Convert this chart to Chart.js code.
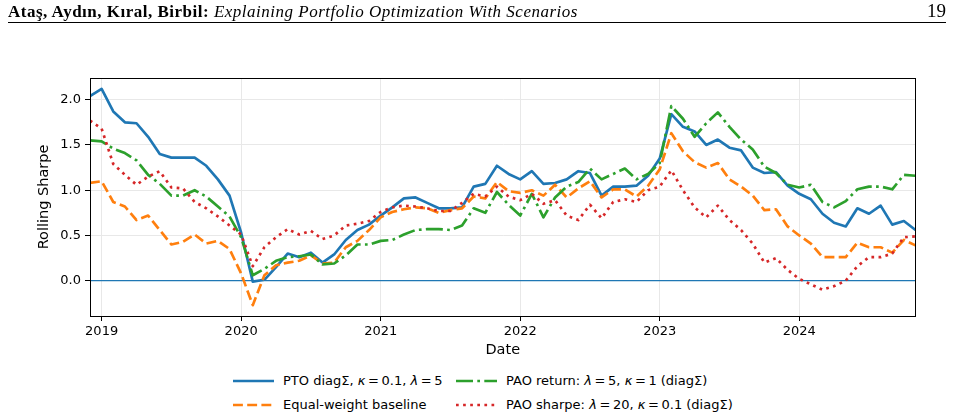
<!DOCTYPE html>
<html>
<head>
<meta charset="utf-8">
<script src="https://cdn.jsdelivr.net/npm/chart.js@4"></script>
<style>
  body { margin: 0; background: #fff; }
  #page { position: relative; width: 954px; height: 419px; overflow: hidden; font-family: "DejaVu Sans", sans-serif; }
  #head { position: absolute; left: 8px; top: 1px; width: 938px; height: 21px; border-bottom: 1px solid #000;
          font-family: "Liberation Serif", serif; font-size: 17px; letter-spacing: 0.5px; line-height: 21px; white-space: nowrap; }
  #head .pg { position: absolute; right: 0; top: -1px; font-size: 19px; letter-spacing: 0; }
  #chartBox { position: absolute; left: 0; top: 0; width: 954px; height: 360px; }
  .leg { position: absolute; font-size: 13px; line-height: 16px; white-space: nowrap; color: #000; }
  .leg svg { position: absolute; left: -50px; top: 3px; }
</style>
</head>
<body>
<div id="page">
  <div id="chartBox"><canvas id="grafica" width="954" height="360"></canvas></div>
  <div id="head"><b>Ataş, Aydın, Kıral, Birbil:</b> <i>Explaining Portfolio Optimization With Scenarios</i><span class="pg">19</span></div>
  <div id="legend"></div>
</div>
<script>
// Meses desde dic-2018 (0) hasta nov-2024 (71)
const yearTicks = [1, 13, 25, 37, 49, 61];
const yearLabels = ["2019", "2020", "2021", "2022", "2023", "2024"];
const yTicks = [0, 0.5, 1.0, 1.5, 2.0];

const pto = [2.04, 2.12, 1.87, 1.75, 1.74, 1.59, 1.40, 1.36, 1.36, 1.36, 1.27, 1.12,
             0.94, 0.53, -0.01, 0.01, 0.15, 0.30, 0.26, 0.31, 0.20, 0.29, 0.45, 0.56,
             0.62, 0.72, 0.81, 0.91, 0.92, 0.86, 0.80, 0.80, 0.81, 1.04, 1.07, 1.27,
             1.18, 1.12, 1.21, 1.07, 1.08, 1.12, 1.21, 1.19, 0.94, 1.04, 1.04, 1.05,
             1.16, 1.35, 1.84, 1.70, 1.65, 1.50, 1.56, 1.47, 1.44, 1.25, 1.19, 1.20,
             1.05, 0.96, 0.90, 0.74, 0.64, 0.60, 0.80, 0.74, 0.83, 0.62, 0.66, 0.56];
const equalWeight = [1.08, 1.10, 0.87, 0.82, 0.67, 0.72, 0.56, 0.40, 0.43, 0.51, 0.41, 0.44,
             0.35, 0.08, -0.27, 0.06, 0.17, 0.20, 0.22, 0.28, 0.19, 0.20, 0.37, 0.44,
             0.56, 0.70, 0.76, 0.79, 0.81, 0.80, 0.75, 0.78, 0.80, 0.93, 0.91, 1.09,
             0.99, 0.97, 1.00, 0.94, 1.06, 0.92, 1.02, 1.10, 0.92, 1.01, 1.01, 0.93,
             1.05, 1.23, 1.63, 1.43, 1.31, 1.25, 1.30, 1.12, 1.04, 0.94, 0.78, 0.79,
             0.60, 0.50, 0.41, 0.26, 0.26, 0.26, 0.42, 0.37, 0.37, 0.31, 0.45, 0.39];
const paoReturn = [1.55, 1.54, 1.46, 1.41, 1.33, 1.17, 1.07, 0.94, 0.94, 1.00, 0.93, 0.82,
             0.71, 0.48, 0.06, 0.13, 0.22, 0.26, 0.27, 0.29, 0.18, 0.19, 0.28, 0.40,
             0.40, 0.44, 0.45, 0.51, 0.56, 0.57, 0.57, 0.56, 0.61, 0.80, 0.75, 0.98,
             0.84, 0.72, 0.96, 0.70, 0.92, 1.04, 1.09, 1.24, 1.12, 1.18, 1.24, 1.12,
             1.18, 1.30, 1.93, 1.79, 1.59, 1.74, 1.86, 1.70, 1.56, 1.45, 1.26, 1.19,
             1.06, 1.03, 1.06, 0.87, 0.81, 0.88, 1.01, 1.04, 1.04, 1.01, 1.17, 1.16];
const paoSharpe = [1.77, 1.68, 1.29, 1.17, 1.06, 1.15, 1.21, 1.03, 1.02, 0.87, 0.80, 0.71,
             0.61, 0.51, 0.16, 0.37, 0.48, 0.57, 0.51, 0.55, 0.46, 0.50, 0.61, 0.63,
             0.66, 0.76, 0.81, 0.83, 0.82, 0.80, 0.77, 0.77, 0.86, 0.96, 0.93, 1.04,
             0.93, 0.89, 0.96, 0.85, 0.89, 0.72, 0.67, 0.84, 0.69, 0.87, 0.90, 0.87,
             1.00, 1.04, 1.22, 1.00, 0.81, 0.70, 0.83, 0.67, 0.56, 0.41, 0.20, 0.25,
             0.12, 0.02, -0.04, -0.10, -0.06, 0.00, 0.16, 0.26, 0.26, 0.30, 0.48, 0.49];

const toXY = arr => arr.map((v, i) => ({ x: i, y: v }));
const lw = 2.67;
const eq = "\u2009=\u2009";

const series = [
    { label: `PTO diagΣ, <i>κ</i>${eq}0.1, <i>λ</i>${eq}5`, data: pto, color: "#1f77b4", dash: [], order: 4 },
    { label: "Equal-weight baseline", data: equalWeight, color: "#ff7f0e", dash: [9.9, 4.3], order: 3 },
    { label: `PAO return: <i>λ</i>${eq}5, <i>κ</i>${eq}1 (diagΣ)`, data: paoReturn, color: "#2ca02c", dash: [17, 4.3, 2.7, 4.3], order: 2 },
    { label: `PAO sharpe: <i>λ</i>${eq}20, <i>κ</i>${eq}0.1 (diagΣ)`, data: paoSharpe, color: "#d62728", dash: [2.7, 4.4], order: 1 }
];

// Marco completo del área de la gráfica
const marco = {
    id: "marco",
    afterDraw(chart) {
        const { ctx, chartArea: a } = chart;
        ctx.save();
        ctx.strokeStyle = "#000";
        ctx.lineWidth = 1;
        ctx.strokeRect(Math.round(a.left) + 0.5, Math.round(a.top) + 0.5,
                       Math.round(a.right - a.left) - 1, Math.round(a.bottom - a.top));
        ctx.restore();
    }
};

const datasets = series.map(s => ({
    label: s.label,
    data: toXY(s.data),
    borderColor: s.color,
    borderWidth: lw,
    borderDash: s.dash,
    borderCapStyle: "butt",
    borderJoinStyle: "round",
    pointRadius: 0,
    tension: 0,
    fill: false,
    order: s.order
}));
datasets.push({
    label: "zero",
    data: [{ x: 0, y: 0 }, { x: 71, y: 0 }],
    borderColor: "#1f77b4",
    borderWidth: 1.3,
    pointRadius: 0,
    order: 5
});

new Chart(document.getElementById("grafica"), {
    type: "line",
    data: { datasets },
    options: {
        responsive: false,
        animation: false,
        devicePixelRatio: 1,
        layout: { padding: { top: 78, right: 38.5, left: 36, bottom: 0 } },
        plugins: { legend: { display: false }, tooltip: { enabled: false } },
        scales: {
            x: {
                type: "linear",
                min: 0,
                max: 71,
                afterBuildTicks: s => { s.ticks = yearTicks.map(v => ({ value: v })); },
                afterFit: s => { s.height = 44; },
                ticks: {
                    color: "#000",
                    font: { family: "DejaVu Sans", size: 13 },
                    padding: 3,
                    maxRotation: 0,
                    autoSkip: false,
                    callback: v => yearLabels[yearTicks.indexOf(v)]
                },
                grid: { color: "#e8e8e8", tickColor: "#000", tickLength: 5, lineWidth: 1 },
                border: { display: true, color: "#000" },
                title: { display: true, text: "Date", color: "#000", font: { family: "DejaVu Sans", size: 14.5 }, padding: { top: 0, bottom: 1 } }
            },
            y: {
                min: -0.39,
                max: 2.24,
                afterBuildTicks: s => { s.ticks = yTicks.map(v => ({ value: v })); },
                afterFit: s => { s.width = 54; },
                ticks: {
                    color: "#000",
                    font: { family: "DejaVu Sans", size: 13 },
                    padding: 4,
                    callback: v => v.toFixed(1)
                },
                grid: { color: "#e8e8e8", tickColor: "#000", tickLength: 5, lineWidth: 1 },
                border: { display: true, color: "#000" },
                title: { display: true, text: "Rolling Sharpe", color: "#000", font: { family: "DejaVu Sans", size: 14.5 }, padding: 0 }
            }
        }
    },
    plugins: [marco]
});

// Leyenda en dos columnas
const legendPos = [
    { left: 283, top: 373 },
    { left: 283, top: 397 },
    { left: 506, top: 373 },
    { left: 506, top: 397 }
];
document.getElementById("legend").innerHTML = series.map((s, i) => `
    <div class="leg" style="left:${legendPos[i].left}px;top:${legendPos[i].top}px">
        <svg width="41" height="10"><line x1="0" y1="5" x2="41" y2="5" stroke="${s.color}"
            stroke-width="${lw}" stroke-dasharray="${s.dash.join(" ") || "none"}"/></svg>${s.label}
    </div>`).join("");
</script>
</body>
</html>
